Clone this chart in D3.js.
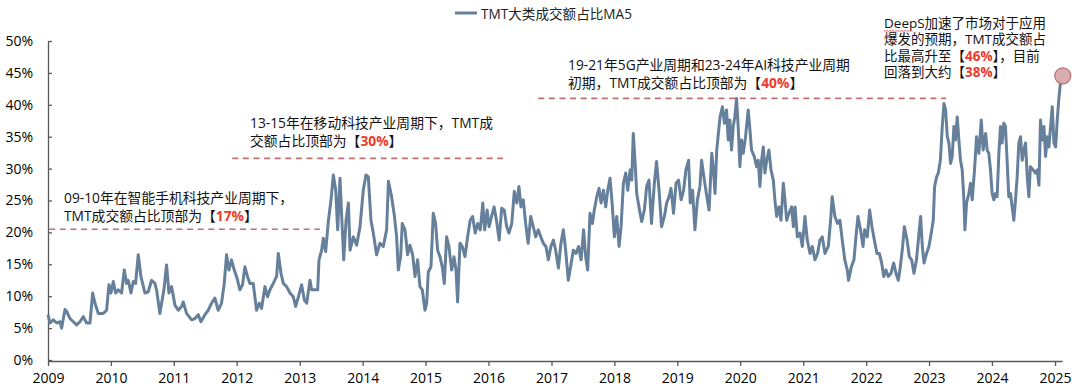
<!DOCTYPE html>
<html>
<head>
<meta charset="utf-8">
<script src="https://cdn.jsdelivr.net/npm/d3@7"></script>
<style>
  html, body { margin: 0; padding: 0; background: #fff; }
  svg { display: block; }
  text { font-family: 'Open Sans', 'Noto Sans CJK SC', sans-serif; }
</style>
</head>
<body>
<svg id="chart" width="1080" height="391"></svg>
<script>
// ---------------- DATA ----------------
const seriesName = "TMT大类成交额占比MA5";
// time in decimal years
const times = [
2009.000,2009.032,2009.085,2009.138,2009.190,2009.217,2009.270,2009.297,2009.350,2009.403,2009.455,2009.508,2009.561,2009.614,2009.667,2009.710,2009.747,2009.800,2009.879,2009.932,2009.969,
2010.001,2010.038,2010.075,2010.117,2010.170,2010.213,2010.250,2010.276,2010.319,2010.356,2010.393,2010.435,2010.477,2010.541,2010.594,2010.647,2010.700,2010.726,2010.779,2010.806,2010.843,2010.885,2010.923,2010.965,
2011.018,2011.071,2011.124,2011.150,2011.203,2011.283,2011.336,2011.389,2011.431,2011.495,2011.548,2011.600,2011.653,2011.706,2011.759,2011.802,2011.839,2011.876,2011.918,2011.961,2011.998,
2012.051,2012.093,2012.130,2012.172,2012.209,2012.262,2012.315,2012.357,2012.395,2012.448,2012.490,2012.527,2012.580,2012.633,2012.660,2012.702,2012.739,2012.792,2012.845,2012.898,2012.935,2012.978,
2013.030,2013.073,2013.110,2013.163,2013.189,2013.242,2013.285,2013.306,2013.348,2013.375,2013.412,2013.454,2013.497,2013.534,2013.571,2013.603,2013.640,2013.667,2013.699,2013.736,2013.773,2013.800,2013.852,2013.905,2013.958,
2014.011,2014.053,2014.090,2014.132,2014.169,2014.222,2014.275,2014.328,2014.381,2014.410,2014.460,2014.503,2014.540,2014.567,2014.604,2014.630,2014.673,2014.715,2014.752,2014.795,2014.832,2014.874,2014.911,2014.948,2014.991,
2015.018,2015.044,2015.086,2015.123,2015.160,2015.192,2015.229,2015.266,2015.298,2015.335,2015.372,2015.415,2015.452,2015.484,2015.510,2015.547,2015.584,2015.627,2015.669,2015.710,2015.748,2015.790,2015.830,2015.870,2015.910,2015.940,2015.980,
2016.010,2016.050,2016.090,2016.130,2016.170,2016.210,2016.250,2016.290,2016.325,2016.370,2016.410,2016.450,2016.484,2016.515,2016.552,2016.590,2016.630,2016.670,2016.710,2016.750,2016.790,2016.830,2016.870,2016.912,2016.950,2016.990,
2017.030,2017.066,2017.110,2017.150,2017.188,2017.225,2017.267,2017.304,2017.347,2017.390,2017.430,2017.470,2017.510,2017.543,2017.575,2017.612,2017.650,2017.680,2017.720,2017.756,2017.788,2017.825,2017.862,2017.894,2017.930,2017.968,
2018.000,2018.037,2018.074,2018.106,2018.143,2018.180,2018.212,2018.250,2018.276,2018.300,2018.330,2018.355,2018.390,2018.434,2018.476,2018.513,2018.550,2018.590,2018.635,2018.670,2018.710,2018.750,2018.795,2018.830,2018.870,2018.900,2018.940,2018.980,
2019.020,2019.060,2019.100,2019.137,2019.180,2019.206,2019.243,2019.280,2019.320,2019.360,2019.386,2019.430,2019.470,2019.505,2019.548,2019.575,2019.600,2019.627,2019.653,2019.680,2019.717,2019.750,2019.783,2019.810,2019.836,2019.862,2019.889,2019.915,2019.942,2019.968,2019.995,
2020.020,2020.048,2020.085,2020.127,2020.154,2020.180,2020.223,2020.260,2020.286,2020.313,2020.340,2020.366,2020.392,2020.420,2020.456,2020.488,2020.525,2020.550,2020.578,2020.615,2020.647,2020.684,2020.710,2020.737,2020.774,2020.816,2020.843,2020.870,2020.906,2020.948,2020.985,
2021.027,2021.064,2021.107,2021.144,2021.186,2021.228,2021.265,2021.302,2021.345,2021.398,2021.440,2021.460,2021.503,2021.545,2021.582,2021.620,2021.660,2021.700,2021.720,2021.764,2021.806,2021.843,2021.870,2021.910,2021.950,2021.976,
2022.018,2022.055,2022.092,2022.130,2022.172,2022.210,2022.247,2022.280,2022.315,2022.352,2022.395,2022.437,2022.474,2022.511,2022.543,2022.580,2022.607,2022.650,2022.686,2022.723,2022.760,2022.800,2022.840,2022.866,2022.893,2022.920,2022.960,2022.998,
2023.035,2023.067,2023.088,2023.120,2023.147,2023.180,2023.210,2023.237,2023.263,2023.290,2023.316,2023.342,2023.368,2023.395,2023.420,2023.448,2023.474,2023.500,2023.527,2023.554,2023.570,2023.596,2023.633,2023.660,2023.686,2023.723,2023.755,2023.792,2023.830,2023.860,2023.900,2023.924,2023.950,2023.977,
2024.003,2024.030,2024.056,2024.082,2024.110,2024.135,2024.160,2024.188,2024.214,2024.240,2024.267,2024.294,2024.320,2024.347,2024.373,2024.400,2024.426,2024.453,2024.480,2024.506,2024.532,2024.560,2024.585,2024.610,2024.654,2024.690,2024.718,2024.745,2024.770,2024.798,2024.824,2024.850,2024.877,2024.903,2024.930,2024.956,2024.983,
2025.010,2025.035,2025.060,2025.090,2025.100
];
// TMT share of total turnover, MA5, in %
const share = [
7.1,5.8,6.3,5.8,6.0,5.0,7.9,7.6,6.5,6.0,5.5,6.0,6.8,5.8,5.8,10.5,8.9,7.3,7.3,7.8,11.8,
10.5,12.3,10.5,11.0,10.5,14.1,12.0,12.5,10.5,12.3,12.0,16.5,13.1,10.5,10.7,12.5,12.0,11.0,7.3,8.9,11.0,14.9,10.5,11.5,
8.6,7.8,8.4,9.1,7.3,6.3,6.5,7.1,6.0,7.1,7.8,8.9,9.7,7.8,8.9,12.0,16.5,14.1,15.7,14.1,13.1,
11.0,11.8,14.6,13.1,12.0,12.0,7.8,8.9,8.1,11.5,9.9,11.0,12.0,13.1,16.7,13.6,12.0,11.5,10.5,9.9,8.4,9.9,
11.8,9.4,8.9,12.5,11.0,11.0,11.0,15.7,17.2,19.1,17.0,21.7,25.1,29.0,26.7,20.4,28.5,22.5,15.7,21.9,24.6,17.2,19.3,18.0,20.9,
26.7,29.0,28.7,21.9,19.9,16.5,18.3,17.8,20.4,28.0,25.6,22.7,19.3,14.1,16.2,21.4,20.4,16.5,18.0,16.5,13.1,15.7,11.5,11.0,7.8,
8.9,13.8,14.6,23.0,21.4,17.2,16.2,14.6,12.0,19.3,17.8,14.1,16.2,14.1,9.1,18.3,17.8,16.2,19.3,21.9,22.5,19.9,21.4,20.4,24.6,20.4,23.5,
20.9,22.5,24.0,21.7,18.8,23.8,23.5,20.9,19.9,21.4,26.4,24.6,27.2,24.0,25.1,21.4,18.3,22.5,20.9,19.3,20.4,19.3,18.3,17.8,15.7,17.8,
18.8,17.2,14.4,18.3,20.4,17.2,12.5,14.6,17.2,16.7,17.8,15.7,20.4,16.2,14.1,23.0,21.4,23.5,25.6,26.9,24.6,26.6,24.0,26.6,28.5,24.0,
19.3,22.5,17.8,20.9,27.7,29.3,26.6,29.8,28.2,35.5,30.8,26.1,24.0,21.7,23.5,27.2,28.2,21.4,27.7,31.1,26.6,20.9,22.5,24.6,25.6,26.9,23.0,27.7,
28.2,25.1,26.6,29.8,31.3,24.6,26.6,20.4,25.1,27.2,31.3,28.2,25.6,23.5,32.4,29.8,26.1,32.9,35.5,38.1,39.7,37.1,39.2,34.5,37.6,32.9,36.6,38.1,41.0,36.6,30.3,
34.5,32.4,35.0,39.2,36.1,32.9,31.9,30.3,31.3,27.2,31.3,33.4,29.3,31.3,32.9,29.8,28.2,25.1,22.5,24.0,21.9,27.7,25.1,21.9,23.0,24.0,20.9,24.0,19.3,19.9,17.8,
22.5,18.8,16.7,17.8,15.7,16.7,18.8,19.3,16.7,17.8,22.5,25.6,22.5,21.4,21.9,18.8,15.7,14.1,12.5,14.6,15.7,19.9,22.5,20.4,17.8,20.4,
19.3,23.5,20.9,18.8,16.7,16.7,15.2,13.1,14.1,13.1,13.6,15.2,13.6,12.5,14.6,17.8,20.9,18.8,16.2,15.7,13.6,15.7,19.9,22.5,17.8,15.2,16.7,17.8,
19.9,21.9,27.2,28.7,29.3,31.3,36.6,40.2,39.2,35.0,34.0,30.8,31.9,36.6,34.5,38.1,34.5,31.3,29.8,25.1,20.4,24.6,26.1,27.7,25.1,29.8,35.0,32.4,37.6,32.9,35.5,32.9,32.4,29.8,
26.1,25.1,26.1,25.6,32.4,36.6,34.0,37.1,36.6,31.3,25.6,26.1,24.0,21.9,25.1,28.7,34.0,35.0,31.3,32.9,34.0,28.7,25.6,30.3,29.8,29.3,29.8,27.4,37.6,34.5,36.6,31.9,35.0,33.4,36.6,39.7,34.0,
33.4,37.6,40.8,43.9,44.7
];
const yTicks = [0, 5, 10, 15, 20, 25, 30, 35, 40, 45, 50];
const xTickYears = [2009,2010,2011,2012,2013,2014,2015,2016,2017,2018,2019,2020,2021,2022,2023,2024,2025];
// peak reference levels (start year, end year, level %)
const refStart = [2009.02, 2011.93, 2016.79];
const refEnd   = [2013.32, 2016.23, 2023.27];
const refLevel = [20.5, 31.6, 41.0];
// annotation texts: [plain, red, plain] segments per line
const notes = [
  [[["09-10年在智能手机科技产业周期下，"]], [["TMT成交额占比顶部为【"], ["17%", 1], ["】"]]],
  [[["13-15年在移动科技产业周期下，TMT成"]], [["交额占比顶部为【"], ["30%", 1], ["】"]]],
  [[["19-21年5G产业周期和23-24年AI科技产业周期"]], [["初期，TMT成交额占比顶部为【"], ["40%", 1], ["】"]]],
  [[["DeepS加速了市场对于应用"]], [["爆发的预期，TMT成交额占"]], [["比最高升至【"], ["46%", 1], ["】，目前"]], [["回落到大约【"], ["38%", 1], ["】"]]]
];

// ---------------- CHART ----------------
function toDate(t) {
  const y = Math.floor(t);
  const s = new Date(y, 0, 1), e = new Date(y + 1, 0, 1);
  return new Date(+s + (t - y) * (e - s));
}
const data = times.map((t, i) => ({ date: toDate(t), v: share[i] }));

const svg = d3.select("#chart");
const lineColor = "#66809b";
const refColor = "#c07072";

const x = d3.scaleTime()
  .domain([new Date(2009, 0, 1), toDate(2025.111)])
  .range([48, 1062]);
const y = d3.scaleLinear().domain([0, 50]).range([360, 41]);

// y axis
const yAxis = svg.append("g")
  .attr("transform", "translate(48,0)")
  .call(d3.axisLeft(y).tickValues(yTicks).tickFormat(d => d + "%")
        .tickSizeInner(-4).tickSizeOuter(0).tickPadding(15));
yAxis.select(".domain").attr("stroke", "#595959").attr("stroke-width", 1.3);
yAxis.selectAll(".tick line").attr("stroke", "#595959").attr("stroke-width", 1.3);
yAxis.selectAll("text").attr("font-size", 14).attr("fill", "#000");

// x axis
const xAxis = svg.append("g")
  .attr("transform", "translate(0,361)")
  .call(d3.axisBottom(x).tickValues(xTickYears.map(yr => new Date(yr, 0, 1)))
        .tickFormat(d3.timeFormat("%Y")).tickSizeInner(5).tickSizeOuter(0).tickPadding(7));
xAxis.select(".domain").attr("stroke", "#595959").attr("stroke-width", 1.3);
xAxis.selectAll(".tick line").attr("stroke", "#595959").attr("stroke-width", 1.3);
xAxis.selectAll("text").attr("font-size", 14).attr("fill", "#000");

// reference dashed lines
svg.append("g").selectAll("line").data(refLevel).join("line")
  .attr("x1", (d, i) => x(toDate(refStart[i])))
  .attr("x2", (d, i) => x(toDate(refEnd[i])))
  .attr("y1", d => y(d)).attr("y2", d => y(d))
  .attr("stroke", refColor).attr("stroke-width", 1.6)
  .attr("stroke-dasharray", "6,4.6");

// series line
svg.append("path").datum(data)
  .attr("fill", "none").attr("stroke", lineColor).attr("stroke-width", 3)
  .attr("stroke-linejoin", "round")
  .attr("d", d3.line().x(d => x(d.date)).y(d => y(d.v)));

// end marker
const last = data[data.length - 1];
svg.append("circle")
  .attr("cx", x(last.date) + 1.5).attr("cy", y(last.v) + 1)
  .attr("r", 8)
  .attr("fill", "#d8aeb0").attr("stroke", "#b96f73").attr("stroke-width", 1.2);

// legend
svg.append("line").attr("x1", 455).attr("x2", 477).attr("y1", 13).attr("y2", 13)
  .attr("stroke", lineColor).attr("stroke-width", 3);
svg.append("text").attr("x", 481).attr("y", 13).attr("dominant-baseline", "central")
  .attr("font-size", 13.6).attr("fill", "#222").text(seriesName);

// annotations
const notePos = [
  { x: 64, y: 197.5, lh: 17.5, fs: 13.8 },
  { x: 250, y: 122.5, lh: 18, fs: 13.8 },
  { x: 568, y: 64.5, lh: 17.5, fs: 13.8 },
  { x: 884, y: 22.5, lh: 16.6, fs: 13.5 }
];
notes.forEach((lines, k) => {
  const p = notePos[k];
  const t = svg.append("text").attr("font-size", p.fs).attr("fill", "#111");
  lines.forEach((segs, li) => {
    segs.forEach((s, si) => {
      const ts = t.append("tspan").text(s[0]);
      if (si === 0) ts.attr("x", p.x).attr("y", p.y + li * p.lh);
      if (s[1]) ts.attr("fill", "#f03a2c").attr("font-weight", "bold");
    });
  });
  t.selectAll("tspan").attr("dominant-baseline", "central");
});

// spell-check squiggle under "DeepS"
const sq = d3.range(0, 29, 1.5).map((dx, i) => [884 + dx, 30.5 + (i % 2 ? 1.2 : -0.2)]);
svg.append("path").attr("d", d3.line()(sq)).attr("fill", "none")
  .attr("stroke", "#e04040").attr("stroke-width", 0.8);
</script>
</body>
</html>
